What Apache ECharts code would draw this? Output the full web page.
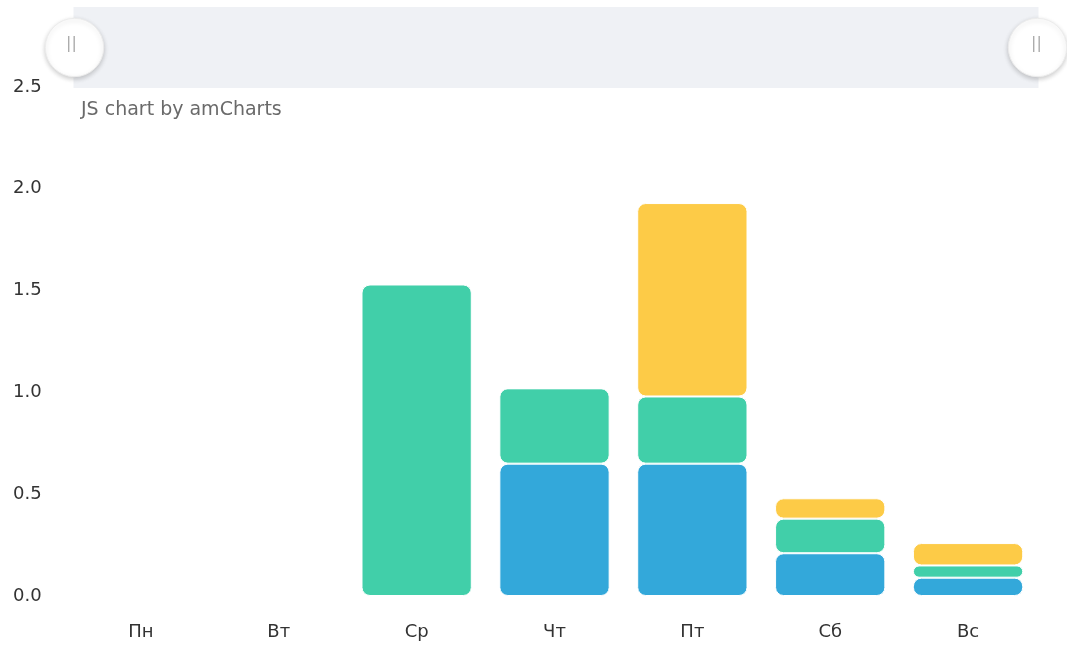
<!DOCTYPE html>
<html>
<head>
<meta charset="utf-8">
<script src="https://cdn.jsdelivr.net/npm/echarts@6/dist/echarts.min.js"></script>
<style>
    html, body { margin: 0; padding: 0; background: #fff; }
    #bar-chart { width: 1067px; height: 645px; }
</style>
</head>
<body>
<div id="bar-chart"></div>
<script>
var days = ["Пн", "Вт", "Ср", "Чт", "Пт", "Сб", "Вс"];
var blueValues = [0, 0, 0, 0.65, 0.65, 0.21, 0.09];
var greenValues = [0, 0, 1.53, 0.37, 0.33, 0.17, 0.06];
var yellowValues = [0, 0, 0, 0, 0.95, 0.1, 0.11];
var yTicks = [0, 0.5, 1, 1.5, 2, 2.5];

function stackPart(name, color, data) {
    return {
        name: name,
        type: "bar",
        stack: "total",
        barCategoryGap: "20%",
        data: data,
        itemStyle: {
            color: color,
            borderRadius: 8,
            borderColor: "#fff",
            borderWidth: 1,
        },
    };
}

var myChart = echarts.init(document.getElementById("bar-chart"));
var option = {
    animation: false,
    title: {
        text: "JS chart by amCharts",
        left: 76,
        top: 96,
        textStyle: { fontSize: 19, fontWeight: "normal", color: "#6a6a6a", fontFamily: "DejaVu Sans" },
    },
    grid: { left: 72, right: 30, top: 87, bottom: 49 },
    dataZoom: [
        {
            type: "slider",
            xAxisIndex: 0,
            start: 0,
            end: 100,
            top: 7,
            height: 81,
            left: 72,
            right: 30,
            showDetail: false,
            showDataShadow: false,
            brushSelect: false,
            moveHandleSize: 0,
            backgroundColor: "#eff1f5",
            fillerColor: "rgba(0,0,0,0)",
            borderColor: "transparent",
            handleIcon: "circle",
            handleSize: "72%",
            handleStyle: {
                color: "#fff",
                borderColor: "#ececec",
                shadowBlur: 5,
                shadowColor: "rgba(0,0,0,0.2)",
                shadowOffsetY: 2,
            },
            emphasis: { handleStyle: { color: "#fff" } },
        },
    ],
    graphic: [
        { type: "text", left: 66, top: 36, silent: true, z: 200,
          style: { text: "||", fill: "#aaa", fontSize: 16, fontFamily: "DejaVu Sans" } },
        { type: "text", left: 1031, top: 36, silent: true, z: 200,
          style: { text: "||", fill: "#aaa", fontSize: 16, fontFamily: "DejaVu Sans" } },
    ],
    xAxis: {
        type: "category",
        data: days,
        axisLine: { show: false },
        axisTick: { show: false },
        axisLabel: { margin: 27, fontSize: 18, color: "#333", fontFamily: "DejaVu Sans" },
    },
    yAxis: {
        type: "value",
        min: yTicks[0],
        max: yTicks[yTicks.length - 1],
        interval: 0.5,
        splitLine: { show: false },
        axisLine: { show: false },
        axisTick: { show: false },
        axisLabel: {
            align: "left",
            margin: 59,
            fontSize: 18,
            color: "#333",
            fontFamily: "DejaVu Sans",
            formatter: function (v) { return v.toFixed(1); },
        },
    },
    series: [
        stackPart("blue", "#33a8da", blueValues),
        stackPart("green", "#41cfa9", greenValues),
        stackPart("yellow", "#fdcb47", yellowValues),
    ],
};
myChart.setOption(option, true);
</script>
</body>
</html>
